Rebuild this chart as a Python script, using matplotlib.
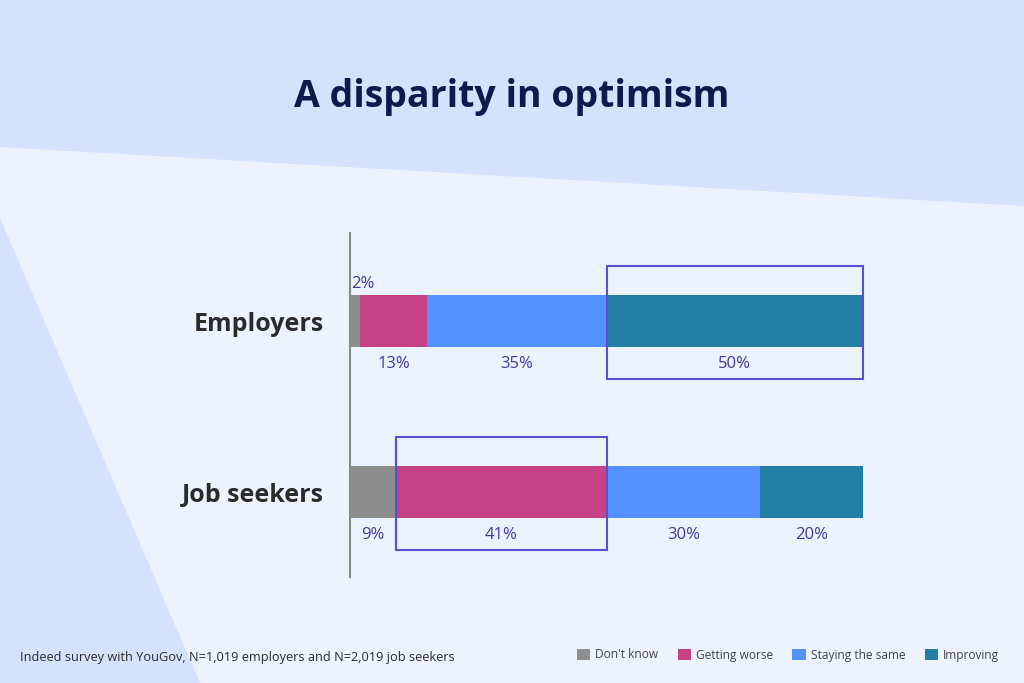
import numpy as np
import matplotlib
matplotlib.use("Agg")
import matplotlib.pyplot as plt
from matplotlib.patches import Polygon, Rectangle

# data
groups = ["Employers", "Job seekers"]
answers = ["Don't know", "Getting worse", "Staying the same", "Improving"]
employers = [2, 13, 35, 50]
job_seekers = [9, 41, 30, 20]
highlight = [3, 1]  # answer index boxed for each group

colors = ["#8e8e8e", "#c64287", "#5391fc", "#237ea3"]
navy = "#0e1a4b"
label_col = "#3d3a9e"
box_col = "#5a4fcf"
text_dark = "#2b2b2b"

plt.rcParams["font.family"] = ["Open Sans", "DejaVu Sans"]

fig = plt.figure(figsize=(10.24, 6.83), dpi=100)
fig.patch.set_facecolor("#ecf2fe")

# background shapes (figure pixel coords, y from top)
W, H = 1024, 683
def px(pts):
    return [(x / W, 1 - y / H) for x, y in pts]

fig.patches.append(Polygon(px([(0, 0), (W, 0), (W, 206), (0, 147)]),
                           closed=True, transform=fig.transFigure,
                           facecolor="#d4e2fe", edgecolor="none", zorder=0))
fig.patches.append(Polygon(px([(0, 218), (0, H), (200, H)]),
                           closed=True, transform=fig.transFigure,
                           facecolor="#d4e2fe", edgecolor="none", zorder=0))

fig.text(0.5, 1 - 97 / H, "A disparity in optimism", ha="center", va="center",
         fontsize=27, fontweight="bold", color=navy)

# axes placed so 0..100% spans the bar area
ax = fig.add_axes([350 / W, 1 - 577 / H, 513 / W, 344 / H])
ax.set_facecolor("none")

data = np.array([employers, job_seekers])
ypos = np.arange(len(groups))
bar_h = 0.30
left = np.zeros(len(groups))
for j, name in enumerate(answers):
    vals = data[:, j]
    ax.barh(ypos, vals, left=left, height=bar_h, color=colors[j],
            label=name, zorder=2)
    for i in range(len(groups)):
        v = vals[i]
        if v < 5:
            ax.text(left[i] + 0.2, ypos[i] - 0.215, f"{v}%", ha="left",
                    va="center", fontsize=12, color=label_col)
        else:
            ax.text(left[i] + v / 2, ypos[i] + 0.25, f"{v}%", ha="center",
                    va="center", fontsize=12, color=label_col)
    left += vals

# highlight boxes
for i, k in enumerate(highlight):
    x0 = data[i, :k].sum()
    ax.add_patch(Rectangle((x0, ypos[i] - 0.32), data[i, k], 0.66,
                           fill=False, edgecolor=box_col, linewidth=1.5,
                           zorder=3, clip_on=False))

ax.set_xlim(0, 100)
ax.set_ylim(1.497, -0.515)
ax.set_xticks([])
ax.set_yticks(ypos, groups)
ax.tick_params(axis="y", length=0, pad=19)
for lab in ax.get_yticklabels():
    lab.set_fontsize(18)
    lab.set_fontweight("bold")
    lab.set_color(text_dark)
for s in ["top", "right", "bottom"]:
    ax.spines[s].set_visible(False)
ax.spines["left"].set_color("#8a8a8a")
ax.spines["left"].set_linewidth(1.5)

fig.text(20 / W, 1 - 657 / H,
         "Indeed survey with YouGov, N=1,019 employers and N=2,019 job seekers",
         ha="left", va="center", fontsize=9.2, color=text_dark)

fig.legend(loc="center right", bbox_to_anchor=(1010 / W, 1 - 655 / H),
           ncol=4, frameon=False, fontsize=8.6, handlelength=1.1,
           handleheight=1.1, handletextpad=0.45, columnspacing=1.6,
           labelcolor="#444444")

fig.savefig("out.png", dpi=100, facecolor=fig.get_facecolor())
